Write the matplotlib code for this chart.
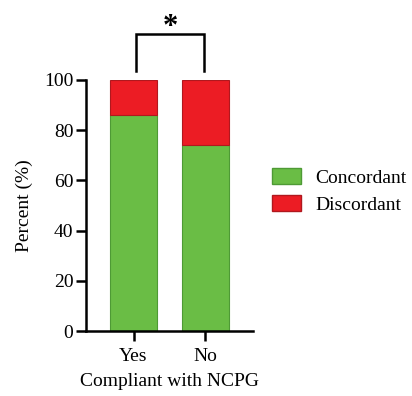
import matplotlib
matplotlib.use("Agg")
import matplotlib.pyplot as plt
from matplotlib.patches import Patch

categories = ["Yes", "No"]
concordant = [86, 74]
discordant = [14, 26]
series_names = ["Concordant", "Discordant"]
colors = ["#6abd45", "#ec1c24"]

plt.rcParams['font.family'] = ['Liberation Serif', 'DejaVu Serif']
FS = 14

fig = plt.figure(figsize=(4.12, 3.96), dpi=100)
ax = fig.add_axes([86/412, 1 - 331/396, (253-86)/412, (331-80)/396])

x = list(range(len(categories)))
ax.bar(x, concordant, width=0.65, color=colors[0], edgecolor="#4e9a35", linewidth=0.8)
ax.bar(x, discordant, width=0.65, bottom=concordant, color=colors[1],
       edgecolor="#b0181e", linewidth=0.8)

ax.set_xlim(-0.66, 1.66)
ax.set_ylim(0, 100)
ax.set_yticks([0, 20, 40, 60, 80, 100])
ax.set_xticks(x)
ax.set_xticklabels(categories)
ax.tick_params(axis='both', labelsize=FS, width=1.8, length=7, color='black', pad=2)
ax.tick_params(axis='x', pad=5)
for s in ["top", "right"]:
    ax.spines[s].set_visible(False)
for s in ["left", "bottom"]:
    ax.spines[s].set_linewidth(1.8)

ax.set_ylabel("Percent (%)", fontsize=FS, labelpad=8)
ax.set_xlabel("Compliant with NCPG", fontsize=FS, labelpad=6)

# significance bracket
by0, by1 = 103.6, 118.3
ax.plot([0.04, 0.04, 0.98, 0.98], [by0, by1, by1, by0], color="black",
        lw=1.8, clip_on=False, solid_joinstyle='miter')
ax.text(0.51, by1 - 3.0, "*", ha="center", va="bottom", fontsize=22,
        fontweight="bold", clip_on=False)

handles = [Patch(facecolor=colors[0], edgecolor="#4e9a35", label=series_names[0]),
           Patch(facecolor=colors[1], edgecolor="#b0181e", label=series_names[1])]
fig.legend(handles=handles, loc="center left", bbox_to_anchor=(255/412, 1 - 191/396),
           frameon=False, fontsize=FS, handlelength=1.45, handleheight=0.9,
           handletextpad=0.75, labelspacing=0.4)

fig.savefig("out.png", dpi=100)
